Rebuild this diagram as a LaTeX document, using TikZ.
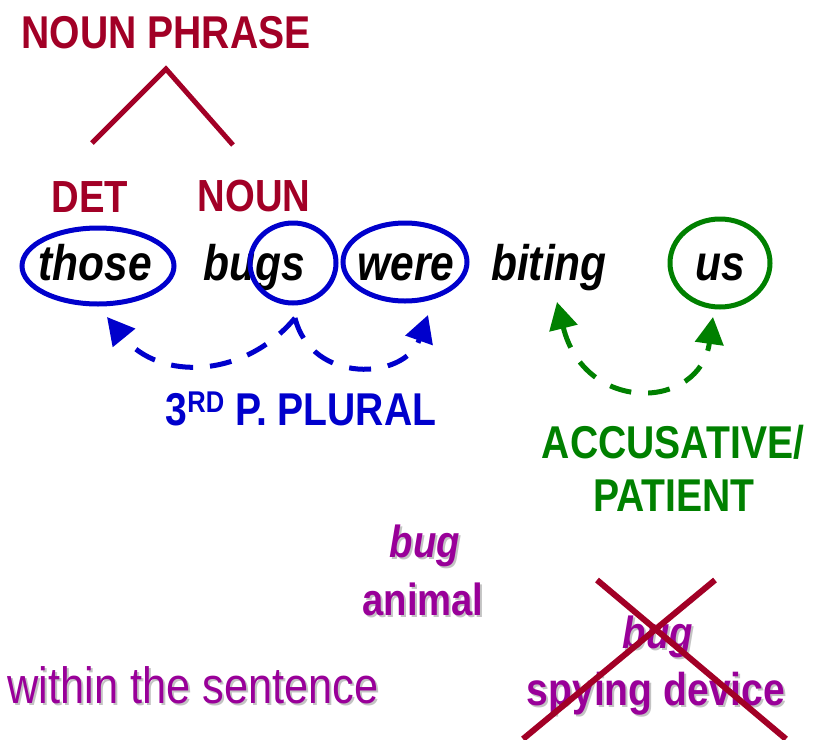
\documentclass[tikz,border=0pt]{standalone}
\usepackage{fontspec}
\usetikzlibrary{arrows.meta,shapes.geometric}
\newfontfamily\nf[FakeStretch=0.85]{Liberation Sans}
\newcommand\myfs[1]{\fontsize{#1}{#1}\selectfont}
\definecolor{dred}{RGB}{162,0,38}
\definecolor{mblue}{RGB}{0,0,204}
\definecolor{mgreen}{RGB}{0,128,0}
\definecolor{mpurple}{RGB}{153,0,153}
\definecolor{shgray}{RGB}{195,195,195}
\tikzset{
  lbl/.style={anchor=base,inner sep=0pt,font=\nf\bfseries\myfs{45}},
  word/.style={anchor=base,inner sep=0pt,font=\nf\bfseries\itshape\myfs{50}},
  oval/.style={ellipse,draw,line width=5pt,inner sep=0pt},
  dasharc/.style={line width=5pt,dash pattern=on 22pt off 17pt},
  tip/.style={-{Triangle[length=27pt,width=28pt]}},
  shadow/.style={text=shgray},
}
\begin{document}
\begin{tikzpicture}[x=1pt,y=-1pt]
\useasboundingbox (0,0) rectangle (827,739);
% tree
\node[lbl,text=dred,font=\nf\bfseries\myfs{46}] (np) at (166,48) {NOUN PHRASE};
\coordinate (apex) at (166,69);
\coordinate (lleg) at (92,143);
\coordinate (rleg) at (233,145);
\draw[dred,line width=5pt] (lleg) -- (apex) -- (rleg);
\node[lbl,text=dred] (det) at (90,212) {DET};
\node[lbl,text=dred] (noun) at (254,211) {NOUN};
% words
\node[word] (those) at (95,280) {those};
\node[word] (bugs) at (254,280) {bugs};
\node[word] (were) at (406,280) {were};
\node[word] (biting) at (549,280) {biting};
\node[word] (us) at (720,280) {us};
% ovals
\node[oval,mblue,minimum width=152pt,minimum height=76pt] (thoseov) at (98,266) {};
\node[oval,mblue,minimum width=86pt,minimum height=80pt] (gsov) at (293,263) {};
\node[oval,mblue,minimum width=124pt,minimum height=78pt] (wereov) at (405,262) {};
\node[oval,mgreen,minimum width=100pt,minimum height=88pt] (usov) at (720,263) {};
% agreement arrows
\coordinate (bstart) at (295,318);
\coordinate (btipl) at (107,317);
\coordinate (btipr) at (428,315);
\draw[mblue,dasharc,tip] (bstart) .. controls (245,378) and (160,382) .. (btipl);
\draw[mblue,dasharc,tip] (bstart) .. controls (312,385) and (405,380) .. (btipr);
\node[lbl,text=mblue,font=\nf\bfseries\myfs{46}] (plural) at (301,425)
  {3\raisebox{13pt}{\myfs{30}RD} P. PLURAL};
\coordinate (gtipl) at (557,302);
\coordinate (gtipr) at (713,317);
\draw[mgreen,dasharc,{Triangle[length=27pt,width=28pt]}-{Triangle[length=27pt,width=28pt]}]
  (gtipl) .. controls (585,415) and (700,410) .. (gtipr);
\node[lbl,text=mgreen,font=\nf\bfseries\myfs{46}] (acc) at (673,458) {ACCUSATIVE/};
\node[lbl,text=mgreen,font=\nf\bfseries\myfs{46}] (pat) at (674,511) {PATIENT};
% meanings
\node[word,shadow,font=\nf\bfseries\itshape\myfs{45}] (bug1s) at (427,559) {bug};
\node[word,text=mpurple,font=\nf\bfseries\itshape\myfs{45}] (bug1) at (425,557) {bug};
\node[lbl,shadow] (animals) at (425,617) {animal};
\node[lbl,text=mpurple] (animal) at (423,615) {animal};
\node[word,shadow,font=\nf\bfseries\itshape\myfs{45}] (bug2s) at (660,650) {bug};
\node[word,text=mpurple,font=\nf\bfseries\itshape\myfs{45}] (bug2) at (658,648) {bug};
\node[lbl,shadow,font=\nf\bfseries\myfs{46}] (spys) at (658,707) {spying device};
\node[lbl,text=mpurple,font=\nf\bfseries\myfs{46}] (spy) at (656,705) {spying device};
\coordinate (xa) at (597,580);
\coordinate (xb) at (786,739);
\coordinate (xc) at (715,580);
\coordinate (xd) at (523,739);
\draw[dred,line width=6pt] (xa) -- (xb);
\draw[dred,line width=6pt] (xc) -- (xd);
\node[lbl,shadow,font=\nf\myfs{51}] (withins) at (195,705) {within the sentence};
\node[lbl,text=mpurple,font=\nf\myfs{51}] (within) at (193,703) {within the sentence};
\end{tikzpicture}
\end{document}
